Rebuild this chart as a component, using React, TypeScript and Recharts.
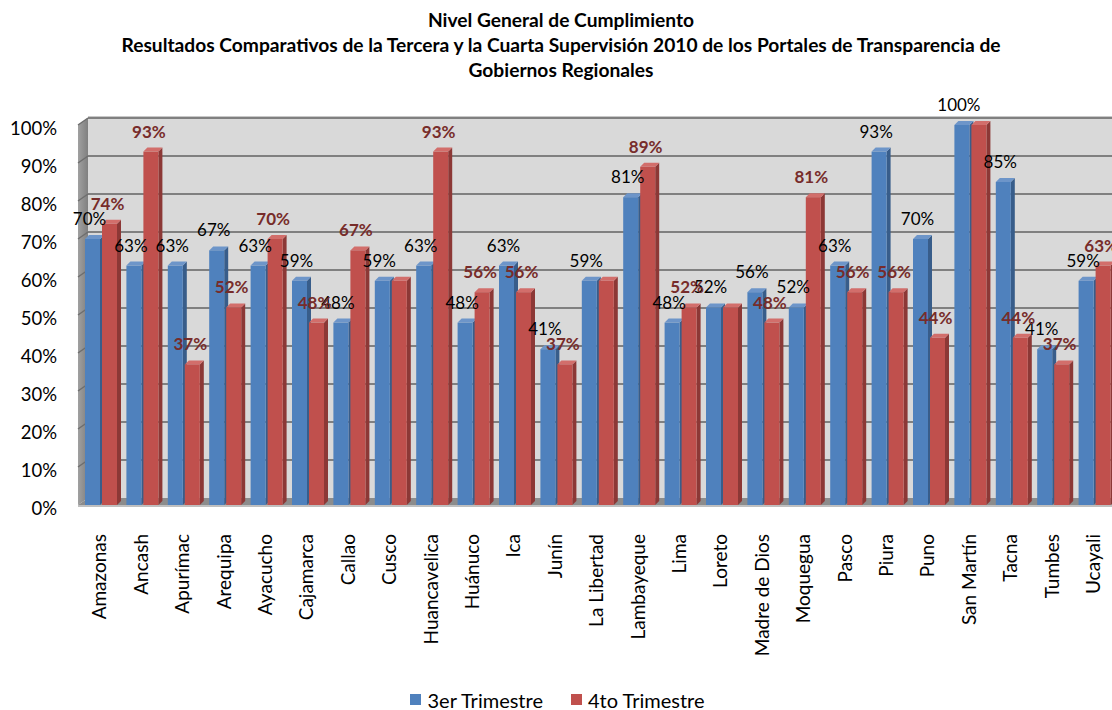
import React from 'react';
import { BarChart, Bar, XAxis, YAxis, CartesianGrid, Legend, LabelList } from 'recharts';

const regions = [
  'Amazonas', 'Ancash', 'Apurímac', 'Arequipa', 'Ayacucho', 'Cajamarca', 'Callao', 'Cusco',
  'Huancavelica', 'Huánuco', 'Ica', 'Junín', 'La Libertad', 'Lambayeque', 'Lima', 'Loreto',
  'Madre de Dios', 'Moquegua', 'Pasco', 'Piura', 'Puno', 'San Martín', 'Tacna', 'Tumbes', 'Ucayali',
];
const tercer = [70, 63, 63, 67, 63, 59, 48, 59, 63, 48, 63, 41, 59, 81, 48, 52, 56, 52, 63, 93, 70, 100, 85, 41, 59];
const cuarto = [74, 93, 37, 52, 70, 48, 67, 59, 93, 56, 56, 37, 59, 89, 52, 52, 48, 81, 56, 56, 44, 100, 44, 37, 63];
const yTicks = [0, 10, 20, 30, 40, 50, 60, 70, 80, 90, 100];
const seriesNames = ['3er Trimestre', '4to Trimestre'];

const FONT = 'Lato, "Open Sans", sans-serif';
const PLOT_TOP = 125;
const PLOT_BOTTOM = 505;
// 3D depth offset of the back wall
const DX = 8;
const DY = 7;

const data = regions.map((r, i) => ({ region: r, t3: tercer[i], t4: cuarto[i] }));

function Bar3D(props: any) {
  const { x, y, width, height, fill, side, top } = props;
  if (height == null || height <= 0) return null;
  const d = 4;
  return (
    <g>
      <polygon
        points={`${x + width},${y} ${x + width + d},${y - d} ${x + width + d},${y + height - d} ${x + width},${y + height}`}
        fill={side}
      />
      <polygon points={`${x},${y} ${x + d},${y - d} ${x + width + d},${y - d} ${x + width},${y}`} fill={top} />
      <rect x={x} y={y} width={width} height={height} fill={fill} />
    </g>
  );
}

function Walls(props: any) {
  const { x1, x2, y1 } = props;
  if (Math.abs(y1 - PLOT_BOTTOM) > 1) return <g key={props.key} />;
  const bx = x1 + DX;
  const top = PLOT_TOP - DY;
  const bot = PLOT_BOTTOM - DY;
  return (
    <g key={props.key}>
      <defs>
        <linearGradient id="leftwall" x1="0" x2="1" y1="0" y2="0">
          <stop offset="0%" stopColor="#a0a0a0" />
          <stop offset="100%" stopColor="#808080" />
        </linearGradient>
      </defs>
      <rect x={bx} y={top} width={x2 + 20 - bx} height={bot - top} fill="#d9d9d9" />
      <line x1={bx} y1={top - 1} x2={x2 + 20} y2={top - 1} stroke="#c8c8c8" strokeWidth={2} />
      <polygon points={`${x1 - 2},${PLOT_TOP} ${bx},${top} ${bx},${bot} ${x1 - 2},${PLOT_BOTTOM}`} fill="url(#leftwall)" />
      <polygon
        points={`${x1 - 2},${PLOT_BOTTOM} ${bx},${bot} ${x2 + 20},${bot} ${x2 + 20},${PLOT_BOTTOM}`}
        fill="#8c8c8c"
      />
      <line x1={x1 - 2} y1={PLOT_BOTTOM + 1} x2={x2 + 20} y2={PLOT_BOTTOM + 1} stroke="#bfbfbf" strokeWidth={2} />
    </g>
  );
}

function GridLine(props: any) {
  const { x1, x2, y1 } = props;
  if (Math.abs(y1 - PLOT_BOTTOM) < 1) return <g key={props.key} />;
  return (
    <g key={props.key}>
      <line x1={x1 + DX} y1={y1 - DY} x2={x2 + 20} y2={y1 - DY} stroke="#808080" strokeWidth={2} />
      <line x1={x1 - 2} y1={y1} x2={x1 + DX} y2={y1 - DY} stroke="#6e6e6e" strokeWidth={1.5} />
    </g>
  );
}

function CategoryTick(props: any) {
  const { x, y, payload } = props;
  return (
    <g transform={`translate(${x},${y})`}>
      <text
        transform="rotate(-90)"
        x={-21}
        y={-1}
        dy="0.35em"
        textAnchor="end"
        fontSize={19}
        fontFamily={FONT}
        fill="#000"
      >
        {payload.value}
      </text>
    </g>
  );
}

function BlueLabel(props: any) {
  const { x, y, width, value } = props;
  return (
    <text x={x + width / 2 - 3} y={y - 14} textAnchor="middle" fontSize={17} fontFamily={FONT} fill="#000">
      {`${value}%`}
    </text>
  );
}

function RedLabel(props: any) {
  const { x, y, width, value, index } = props;
  if (index != null && tercer[index] === value) return null;
  return (
    <text
      x={x + width / 2 - 2}
      y={y - 14}
      textAnchor="middle"
      fontSize={17}
      fontWeight={700}
      fontFamily={FONT}
      fill="#772c2a"
    >
      {`${value}%`}
    </text>
  );
}

function LegendBox() {
  const item = (color: string, label: string) => (
    <span style={{ display: 'inline-flex', alignItems: 'center', margin: '0 14px' }}>
      <span style={{ width: 11, height: 11, background: color, display: 'inline-block', marginRight: 6 }} />
      <span>{label}</span>
    </span>
  );
  return (
    <div style={{ textAlign: 'center', fontFamily: FONT, fontSize: 20, lineHeight: '22px', color: '#000' }}>
      {item('#4f81bd', seriesNames[0])}
      {item('#c0504d', seriesNames[1])}
    </div>
  );
}

export default function App() {
  return (
    <div
      style={{
        position: 'absolute',
        left: 0,
        top: 0,
        width: 1112,
        height: 710,
        overflow: 'hidden',
        background: '#fff',
      }}
    >
      <div
        style={{
          position: 'absolute',
          top: 7,
          left: 0,
          width: 1122,
          textAlign: 'center',
          fontFamily: FONT,
          fontWeight: 700,
          fontSize: 19.2,
          lineHeight: '25px',
          color: '#000',
          zIndex: 2,
        }}
      >
        <div>Nivel General de Cumplimiento</div>
        <div>Resultados Comparativos de la Tercera y la Cuarta Supervisión 2010 de los Portales de Transparencia de</div>
        <div>Gobiernos Regionales</div>
      </div>
      <BarChart
        width={1125}
        height={710}
        data={data}
        margin={{ top: PLOT_TOP, right: 10, left: 0, bottom: 0 }}
        barSize={15}
        barGap={2}
      >
        <CartesianGrid vertical={false} horizontal={Walls} fill="none" />
        <CartesianGrid vertical={false} horizontal={GridLine} fill="none" />
        <XAxis
          dataKey="region"
          interval={0}
          tickLine={false}
          axisLine={false}
          height={150}
          tick={<CategoryTick />}
        />
        <YAxis
          domain={[0, 100]}
          ticks={yTicks}
          width={80}
          tickLine={false}
          axisLine={false}
          tickSize={0}
          tickMargin={23}
          tickFormatter={(v) => `${v}%`}
          tick={{ fontSize: 18.5, fontFamily: FONT, fill: '#000', dy: 3 }}
        />
        <Legend
          verticalAlign="bottom"
          height={55}
          content={<LegendBox />}
          wrapperStyle={{ top: 686, bottom: 'auto' }}
        />
        <Bar
          dataKey="t3"
          name={seriesNames[0]}
          fill="#4f81bd"
          isAnimationActive={false}
          shape={(p: any) => <Bar3D {...p} side="#385d8a" top="#6d95c9" />}
        >
          <LabelList dataKey="t3" content={<BlueLabel />} />
        </Bar>
        <Bar
          dataKey="t4"
          name={seriesNames[1]}
          fill="#c0504d"
          isAnimationActive={false}
          shape={(p: any) => <Bar3D {...p} side="#8c3836" top="#d26e6b" />}
        >
          <LabelList dataKey="t4" content={<RedLabel />} />
        </Bar>
      </BarChart>
    </div>
  );
}
